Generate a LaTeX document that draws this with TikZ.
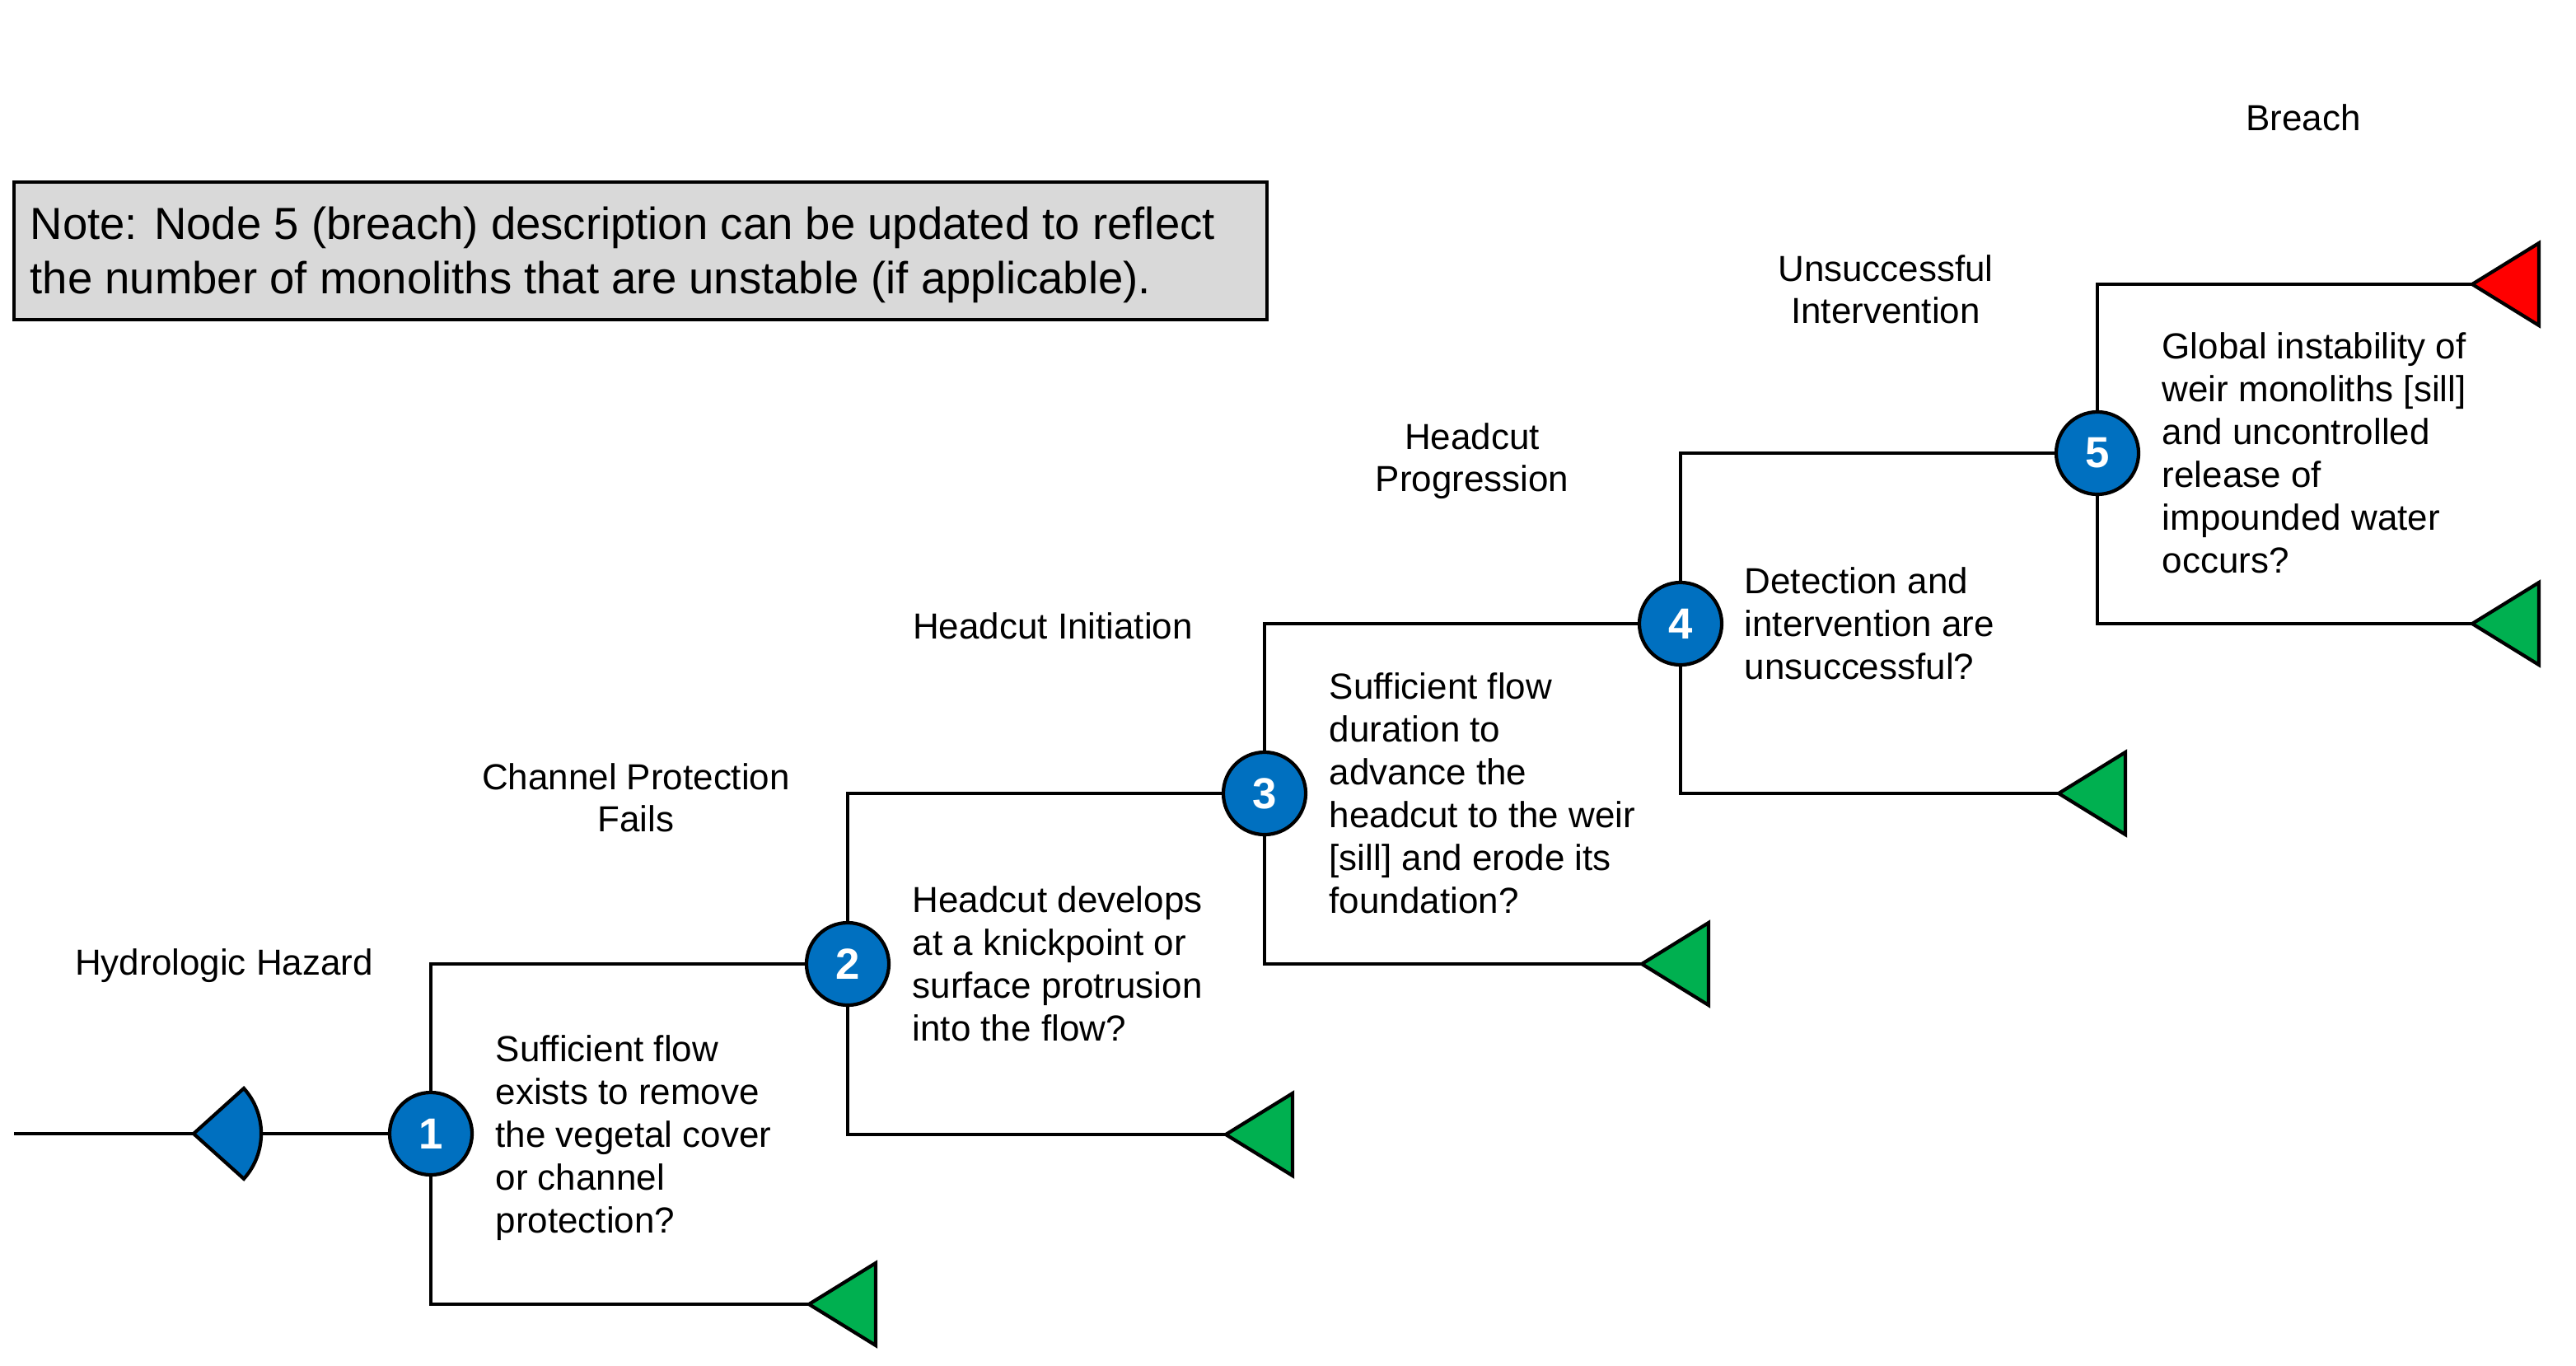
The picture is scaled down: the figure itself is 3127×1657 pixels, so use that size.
\documentclass[tikz,border=0pt]{standalone}
\usepackage{fontspec}
\setmainfont{Liberation Sans}
\definecolor{nodeblue}{HTML}{0070C0}
\definecolor{okgreen}{HTML}{00B050}
\definecolor{badred}{HTML}{FF0000}
\definecolor{notegray}{HTML}{D9D9D9}
\newcommand{\stk}[2]{\begin{tabular}[t]{@{}#1@{}}#2\end{tabular}}
\begin{document}
\begin{tikzpicture}[x=0.01cm,y=-0.01cm,
  conn/.style={line width=1pt, draw=black},
  evnode/.style={circle, draw=black, line width=1.2pt, fill=nodeblue, minimum size=1cm, inner sep=0pt, text=white, font=\fontsize{15pt}{18pt}\selectfont\bfseries},
  desc/.style={anchor=base west, inner sep=0pt, font=\fontsize{12.5pt}{14.8pt}\selectfont},
  head/.style={anchor=base, inner sep=0pt, font=\fontsize{12.5pt}{14.5pt}\selectfont},
  endtri/.style={draw=black, line width=1.2pt, line join=miter},
]
\useasboundingbox (0,0) rectangle (3127,1657);

% note box
\draw[line width=1.2pt, fill=notegray] (17,221) rectangle (1538,388);
\node[anchor=base west, inner sep=0pt, font=\fontsize{15.5pt}{18.8pt}\selectfont] (note) at (36,290)
  {\stk{l}{Note: Node 5 (breach) description can be updated to reflect\\the number of monoliths that are unstable (if applicable).}};

% headers
\node[head] (h0) at (272,1183) {\stk{c}{Hydrologic Hazard}};
\node[head] (h1) at (772,958) {\stk{c}{Channel Protection\\Fails}};
\node[head] (h2) at (1278,775) {\stk{c}{Headcut Initiation}};
\node[head] (h3) at (1787,545) {\stk{c}{Headcut\\Progression}};
\node[head] (h4) at (2289,341) {\stk{c}{Unsuccessful\\Intervention}};
\node[head] (h5) at (2796,158) {\stk{c}{Breach}};

% event nodes
\node[evnode] (c1) at (523,1376) {1};
\node[evnode] (c2) at (1029,1170) {2};
\node[evnode] (c3) at (1535,963) {3};
\node[evnode] (c4) at (2040,757) {4};
\node[evnode] (c5) at (2546,550) {5};

% end-point coordinates (triangle tips)
\coordinate (g1) at (982,1583);
\coordinate (g2) at (1488,1377);
\coordinate (g3) at (1993,1170);
\coordinate (g4) at (2499,963);
\coordinate (g5) at (3001,757);
\coordinate (r5) at (3001,345);

% hazard input
\coordinate (start) at (17,1376);
\coordinate (hz) at (235,1376);
\coordinate (hzr) at (317,1376);
\draw[conn] (start) -- (hz);
\draw[conn] (hzr) -- (c1.west);
\draw[endtri, fill=nodeblue] (hz) -- ++(61,-55) arc[start angle=42, end angle=-42, radius=0.82cm] -- cycle;

% branches
\draw[conn] (c1.north) |- (c2.west);
\draw[conn] (c2.north) |- (c3.west);
\draw[conn] (c3.north) |- (c4.west);
\draw[conn] (c4.north) |- (c5.west);
\draw[conn] (c5.north) |- (r5);
\draw[conn] (c1.south) |- (g1);
\draw[conn] (c2.south) |- (g2);
\draw[conn] (c3.south) |- (g3);
\draw[conn] (c4.south) |- (g4);
\draw[conn] (c5.south) |- (g5);

% triangles
\foreach \t in {g1,g2,g3,g4,g5}
  \draw[endtri, fill=okgreen] (\t) -- ++(81,-50) -- ++(0,100) -- cycle;
\draw[endtri, fill=badred] (r5) -- ++(81,-50) -- ++(0,100) -- cycle;

% descriptions
\node[desc] (d1) at (601,1288) {\stk{l}{Sufficient flow\\exists to remove\\the vegetal cover\\or channel\\protection?}};
\node[desc] (d2) at (1107,1107) {\stk{l}{Headcut develops\\at a knickpoint or\\surface protrusion\\into the flow?}};
\node[desc] (d3) at (1613,848) {\stk{l}{Sufficient flow\\duration to\\advance the\\headcut to the weir\\{[sill]} and erode its\\foundation?}};
\node[desc] (d4) at (2117,720) {\stk{l}{Detection and\\intervention are\\unsuccessful?}};
\node[desc] (d5) at (2624,435) {\stk{l}{Global instability of\\weir monoliths [sill]\\and uncontrolled\\release of\\impounded water\\occurs?}};
\end{tikzpicture}
\end{document}
